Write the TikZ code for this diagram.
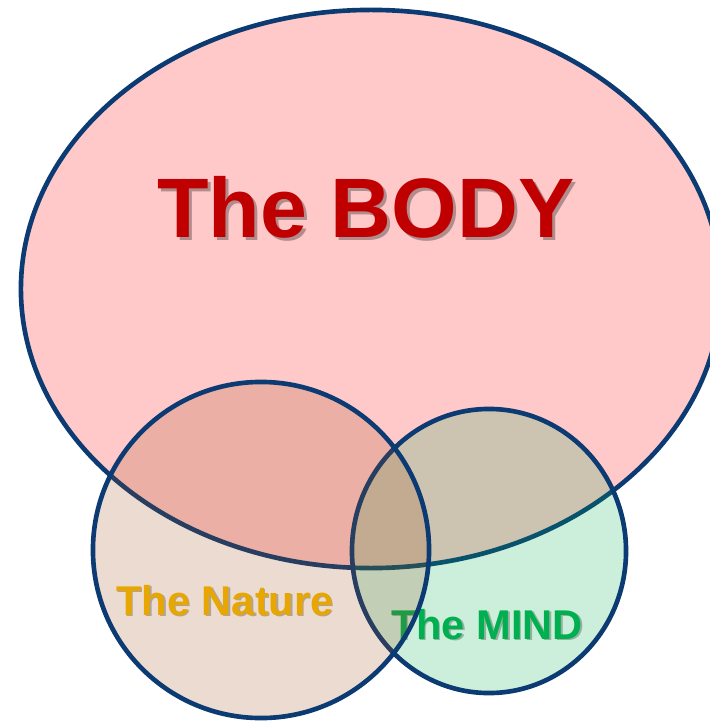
\documentclass[tikz,border=0pt]{standalone}
\usepackage{fontspec}
\setmainfont{Liberation Sans}
\usepackage{xcolor}
\usepackage{tikz}
\usetikzlibrary{shapes.geometric}
\definecolor{outline}{HTML}{0B3B72}
\definecolor{bodyfill}{HTML}{FFC9C9}
\definecolor{naturefill}{HTML}{9B4B19}
\definecolor{mindfill}{HTML}{00B050}
\definecolor{bodytext}{HTML}{C00000}
\definecolor{naturetext}{HTML}{E8A600}
\definecolor{mindtext}{HTML}{00B050}
\definecolor{bodyshade}{HTML}{B08C8C}
\definecolor{natureshade}{HTML}{B0A49A}
\definecolor{mindshade}{HTML}{98B0A2}
\newcommand{\shadowlabel}[3]{\makebox[0pt][l]{\hspace{0.035em}\raisebox{-0.035em}{\textcolor{#2}{#3}}}\textcolor{#1}{#3}}
\tikzset{
    set/.style={ellipse, draw=outline, line width=3.3pt, inner sep=0pt},
    bodyset/.style={set, fill=bodyfill, minimum width=17.5cm, minimum height=13.95cm},
    natureset/.style={set, fill=naturefill, fill opacity=0.2, minimum width=8.4cm, minimum height=8.4cm},
    mindset/.style={set, fill=mindfill, fill opacity=0.2, minimum width=6.85cm, minimum height=7.1cm},
    biglabel/.style={inner sep=0pt, font=\bfseries\fontsize{60}{60}\selectfont},
    smalllabel/.style={inner sep=0pt, font=\bfseries\fontsize{29.6}{30}\selectfont}
}
\begin{document}
\begin{tikzpicture}[x=0.025cm, y=-0.025cm]
    \useasboundingbox (0,0) rectangle (709,721);
    \node [bodyset] (body) at (371,289) {};
    \node [biglabel] (bodytitle) at (366,209) {\shadowlabel{bodytext}{bodyshade}{The BODY}};
    \node [mindset] (mind) at (489,551) {};
    \node [smalllabel] (mindtitle) at (487,625) {\shadowlabel{mindtext}{mindshade}{The MIND}};
    \node [natureset] (nature) at (261,550) {};
    \node [smalllabel] (naturetitle) at (225,601) {\shadowlabel{naturetext}{natureshade}{The Nature}};
\end{tikzpicture}
\end{document}
